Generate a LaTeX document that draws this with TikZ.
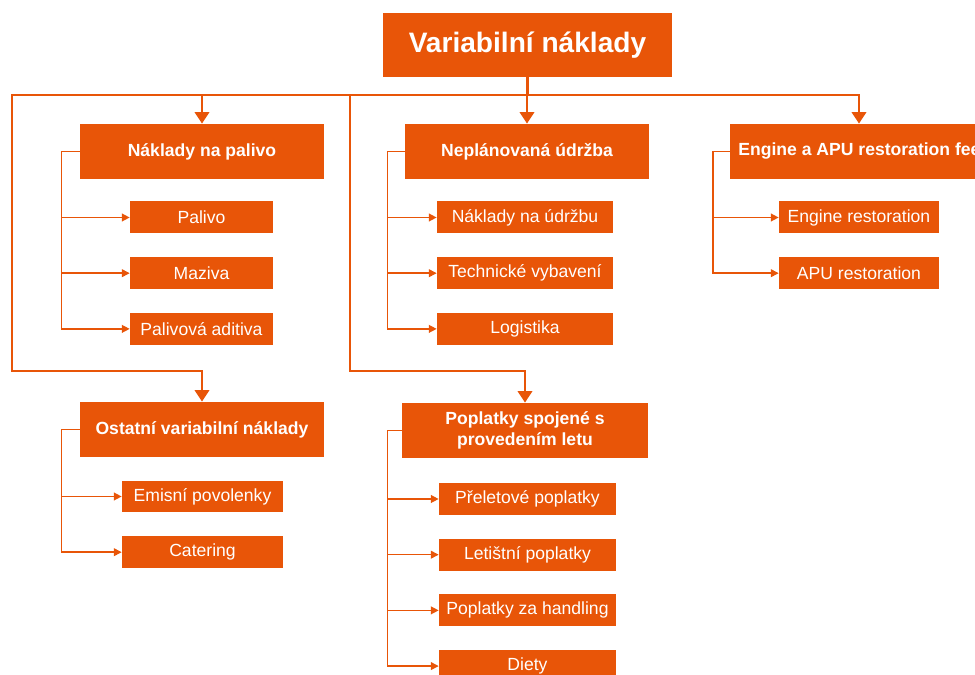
\documentclass[tikz,border=0pt]{standalone}
\usepackage{fontspec}
\setmainfont{Liberation Sans}
\usetikzlibrary{positioning}
\usetikzlibrary{arrows.meta}
\definecolor{varorange}{HTML}{E85508}
\tikzset {
  node distance={0.46cm},
  % heading boxes
  head/.style = {fill=varorange, text=white, font=\bfseries\fontsize{10}{12}\selectfont,
    minimum height=1.1cm, inner sep=2pt, align=center},
  % cost items
  item/.style = {fill=varorange, text=white, font=\fontsize{10}{12}\selectfont,
    minimum height=0.64cm, inner sep=1pt},
  % thick lines from the top box
  bus/.style = {draw=varorange, line width=1.6pt, >={Triangle[length=6.5pt,width=8pt]}},
  % thin lines to the items
  sub/.style = {draw=varorange, line width=0.8pt, >={Triangle[length=4.5pt,width=4.5pt]}},
}

\begin{document}
\begin{tikzpicture}[x=0.02cm, y=-0.02cm]
        \useasboundingbox (0,0) rectangle (975,675);

        \node[head, minimum width=5.78cm, minimum height=1.28cm,
          font=\bfseries\fontsize{16}{19}\selectfont] (root) at (527.5,45) {Variabilní náklady};

        \node[head, minimum width=4.88cm] (palivo) at (202,151.5) {Náklady na palivo};
        \node[item, minimum width=2.86cm] (pal1) at (201.5,217.5) {Palivo};
        \node[item, minimum width=2.86cm] (pal2) [below=of pal1] {Maziva};
        \node[item, minimum width=2.86cm] (pal3) [below=of pal2] {Palivová aditiva};

        \node[head, minimum width=4.88cm] (udrzba) at (527,151.5) {Neplánovaná údržba};
        \node[item, minimum width=3.52cm] (udr1) at (525,217.5) {Náklady na údržbu};
        \node[item, minimum width=3.52cm] (udr2) [below=of udr1] {Technické vybavení};
        \node[item, minimum width=3.52cm] (udr3) [below=of udr2] {Logistika};

        \node[head, minimum width=5.36cm, anchor=west] (engine) at (730,151.5) {Engine a APU restoration fees};
        \node[item, minimum width=3.2cm] (eng1) at (859,217.5) {Engine restoration};
        \node[item, minimum width=3.2cm] (eng2) [below=of eng1] {APU restoration};

        \node[head, minimum width=4.88cm] (ostatni) at (202,429.5) {Ostatní variabilní náklady};
        \node[item, minimum width=3.22cm] (ost1) at (202.5,496.5) {Emisní povolenky};
        \node[item, minimum width=3.22cm] (ost2) [below=of ost1] {Catering};

        \node[head, minimum width=4.92cm] (poplatky) at (525,430.5) {Poplatky spojené s\\provedením letu};
        \node[item, minimum width=3.54cm] (pop1) at (527.5,499) {Přeletové poplatky};
        \node[item, minimum width=3.54cm] (pop2) [below=of pop1] {Letištní poplatky};
        \node[item, minimum width=3.54cm] (pop3) [below=of pop2] {Poplatky za handling};
        \node[item, minimum width=3.54cm] (pop4) [below=of pop3] {Diety};

        \coordinate (busL) at (12,95);
        \coordinate (busM) at (350,95);

        \draw [bus] (root.south) -- (root.south |- busL);
        \draw [bus, ->] (busL) -- (busL -| eng1.north) -- (eng1.north |- engine.north);
        \draw [bus, ->] (busL -| palivo.north) -- (busL) -- ++(0,276) -| (ostatni.north);
        \draw [bus, ->] (busL -| palivo.north) -- (palivo.north);
        \draw [bus, ->] (busL -| udrzba.north) -- (udrzba.north);
        \draw [bus, ->] (busM) -- ++(0,276) -| (poplatky.north);

        \foreach \s in {pal1,pal2,pal3}
          \draw [sub, ->] (palivo.west) -- ++(-18,0) |- (\s.west);
        \foreach \s in {udr1,udr2,udr3}
          \draw [sub, ->] (udrzba.west) -- ++(-17,0) |- (\s.west);
        \foreach \s in {eng1,eng2}
          \draw [sub, ->] (engine.west) -- ++(-17,0) |- (\s.west);
        \foreach \s in {ost1,ost2}
          \draw [sub, ->] (ostatni.west) -- ++(-18,0) |- (\s.west);
        \foreach \s in {pop1,pop2,pop3,pop4}
          \draw [sub, ->] (poplatky.west) -- ++(-14,0) |- (\s.west);
      \end{tikzpicture}
\end{document}
